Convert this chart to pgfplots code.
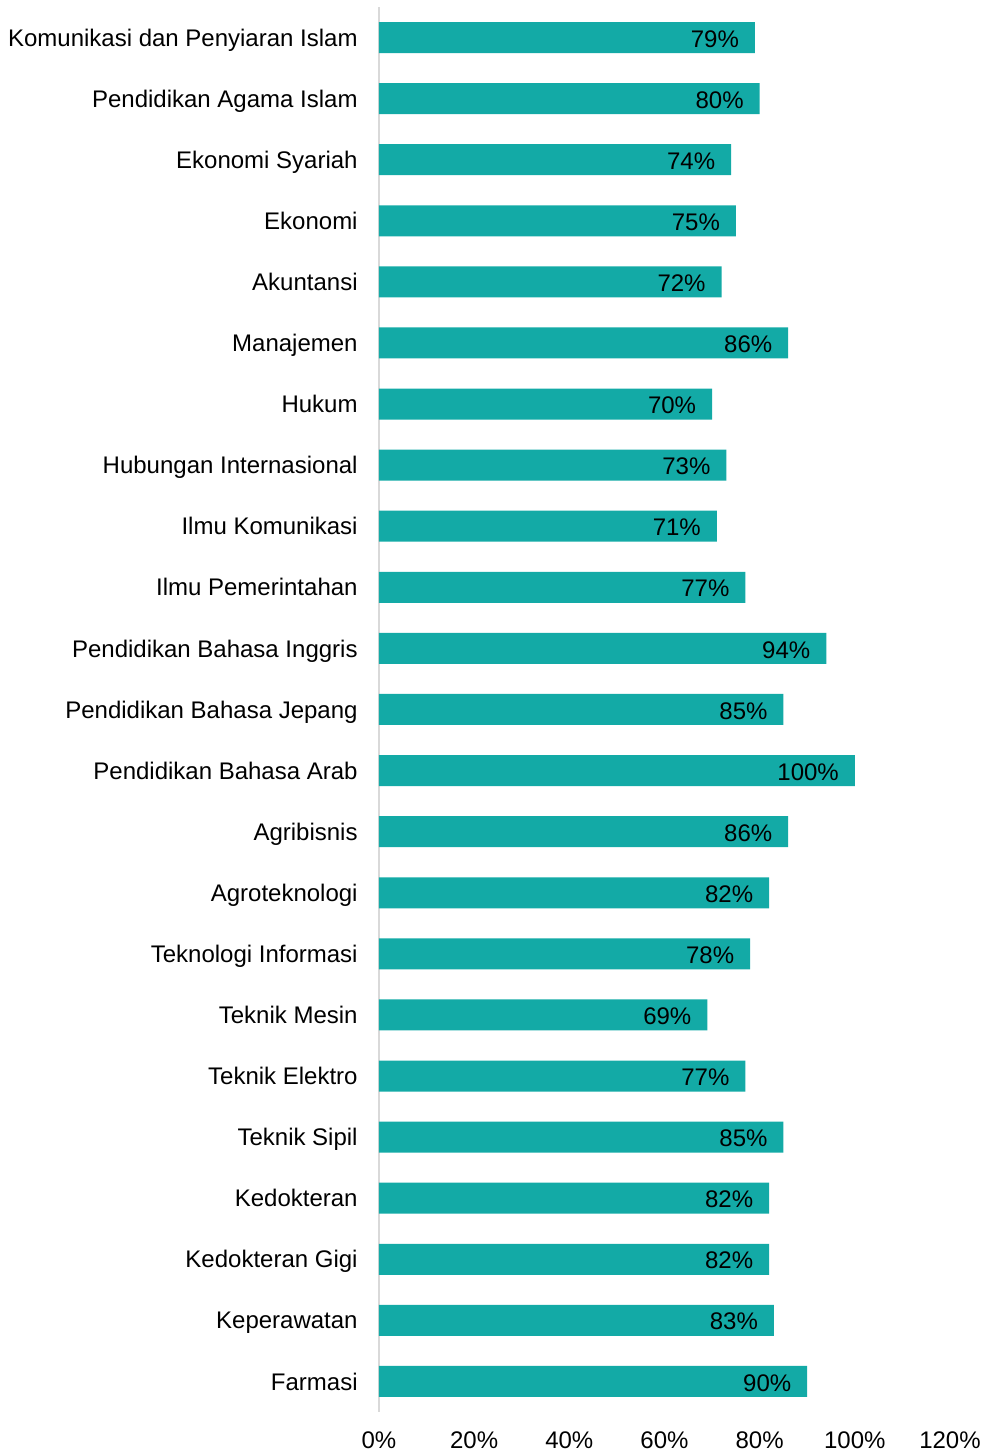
\documentclass[border=0pt]{standalone}
\usepackage{fontspec}
\setmainfont{Liberation Sans}
\usepackage{pgfplots}
\pgfplotsset{compat=1.18}
\definecolor{barcol}{HTML}{13AAA6}
\definecolor{axcol}{HTML}{D9D9D9}
\begin{document}
\begin{tikzpicture}[font=\fontsize{12pt}{14pt}\selectfont]
\path[use as bounding box] (-189.5pt,-20.5pt) rectangle (307.5pt,706pt);
\begin{axis}[
  at={(0,0)}, anchor=south west,
  scale only axis, width=285.5pt, height=702.5pt,
  xbar, bar width=15.5pt,
  xmin=0, xmax=120,
  ymin=-0.5, ymax=22.5,
  ytick={0,...,22},
  yticklabels={Farmasi,Keperawatan,Kedokteran Gigi,Kedokteran,Teknik Sipil,Teknik Elektro,Teknik Mesin,Teknologi Informasi,Agroteknologi,Agribisnis,Pendidikan Bahasa Arab,Pendidikan Bahasa Jepang,Pendidikan Bahasa Inggris,Ilmu Pemerintahan,Ilmu Komunikasi,Hubungan Internasional,Hukum,Manajemen,Akuntansi,Ekonomi,Ekonomi Syariah,Pendidikan Agama Islam,Komunikasi dan Penyiaran Islam},
  xtick={0,20,...,120},
  xticklabel={\pgfmathprintnumber{\tick}\%},
  /pgf/number format/assume math mode=true,
  axis lines*=left,
  x axis line style={draw=none},
  y axis line style={draw=axcol, line width=1pt, -},
  major tick length=0pt,
  y tick label style={anchor=east, inner sep=0pt, xshift=-10.5pt, text height=8.6pt, text depth=0pt},
  x tick label style={anchor=north, inner sep=0pt, yshift=-9.8pt},
  nodes near coords={\pgfmathprintnumber{\pgfplotspointmeta}\%},
  point meta=x,
  every node near coord/.append style={anchor=east, inner sep=0pt, xshift=-7.8pt, text=black, text height=8.6pt, text depth=0pt, yshift=-0.5pt},
]
\addplot[fill=barcol, draw=none] coordinates {
(90,0) (83,1) (82,2) (82,3) (85,4) (77,5) (69,6) (78,7) (82,8) (86,9)
(100,10) (85,11) (94,12) (77,13) (71,14) (73,15) (70,16) (86,17) (72,18)
(75,19) (74,20) (80,21) (79,22)
};
\end{axis}
\end{tikzpicture}
\end{document}
